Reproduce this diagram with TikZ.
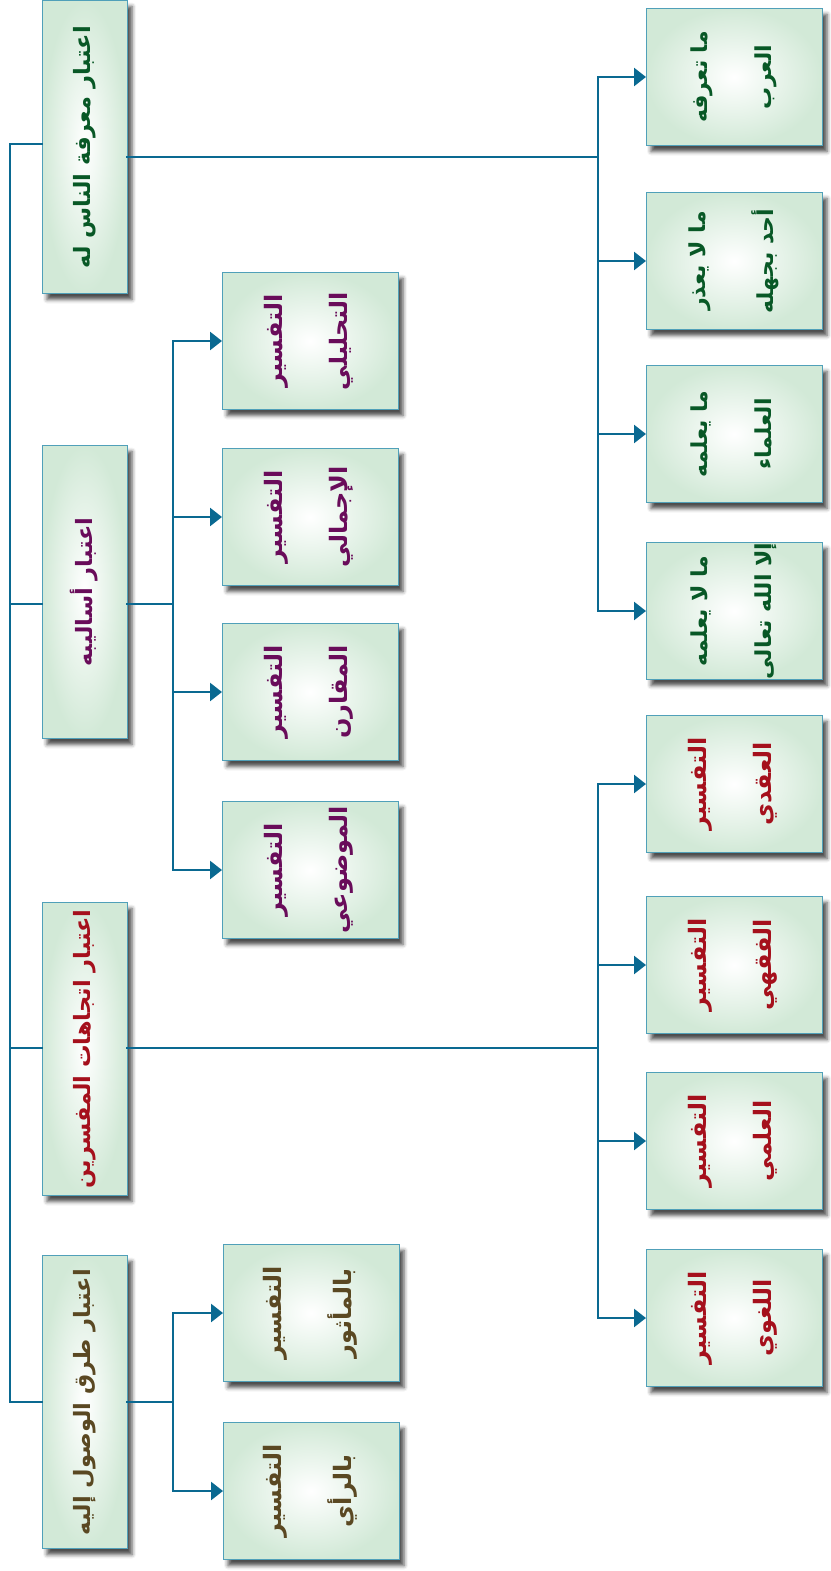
\documentclass[tikz,border=0pt]{standalone}
\usepackage{fontspec}
\newfontfamily\arabicfont[Script=Arabic]{DejaVu Sans}
\TeXXeTstate=1
\usetikzlibrary{arrows.meta,shadows.blur}
\definecolor{linec}{RGB}{10,105,145}
\definecolor{boxedge}{RGB}{80,160,185}
\definecolor{boxfill}{RGB}{210,233,215}
\definecolor{tgreen}{RGB}{8,88,38}
\definecolor{tpurple}{RGB}{105,12,90}
\definecolor{tred}{RGB}{165,16,28}
\definecolor{tbrown}{RGB}{90,72,34}
\newcommand{\onel}[1]{\rotatebox{90}{#1}}
\newcommand{\twol}[2]{\rotatebox{90}{\begin{tabular}{@{}c@{}}#1\\[38pt]#2\end{tabular}}}
\begin{document}
\begin{tikzpicture}[x=1pt,y=-1pt,
  box/.style={draw=boxedge, line width=0.8pt, inner sep=0pt, outer sep=0pt,
     shading=radial, inner color=white, outer color=boxfill,
     blur shadow={shadow xshift=5pt, shadow yshift=-6pt, shadow blur radius=4pt, shadow opacity=70}},
  mainbox/.style={box, minimum width=85pt, minimum height=293pt,
     font=\arabicfont\bfseries\fontsize{22.5}{26}\selectfont},
  leafbox/.style={box, minimum width=176pt, minimum height=137pt,
     font=\arabicfont\bfseries\fontsize{24}{27}\selectfont},
  gleaf/.style={leafbox, text=tgreen, font=\arabicfont\bfseries\fontsize{22}{26}\selectfont},
  conn/.style={draw=linec, line width=2.6pt, line cap=rect, line join=miter},
  arr/.style={conn, -{Triangle[length=12pt,width=18pt]}}
]
\useasboundingbox (0,0) rectangle (830,1571);

% main boxes
\node[mainbox, text=tgreen]  (A) at (84.5,147) {\onel{\beginR اعتبار معرفة الناس له\endR}};
\node[mainbox, text=tpurple] (B) at (84.5,592) {\onel{\beginR اعتبار أساليبه\endR}};
\node[mainbox, text=tred]    (C) at (84.5,1049) {\onel{\beginR اعتبار اتجاهات المفسرين\endR}};
\node[mainbox, text=tbrown]  (D) at (84.5,1402) {\onel{\beginR اعتبار طرق الوصول إليه\endR}};

% right column (A)
\node[gleaf] (r1) at (734,77)  {\twol{\beginR ما تعرفه\endR}{\beginR العرب\endR}};
\node[gleaf] (r2) at (734,261) {\twol{\beginR ما لا يعذر\endR}{\beginR أحد بجهله\endR}};
\node[gleaf] (r3) at (734,434) {\twol{\beginR ما يعلمه\endR}{\beginR العلماء\endR}};
\node[gleaf] (r4) at (734,611) {\twol{\beginR ما لا يعلمه\endR}{\beginR إلا الله تعالى\endR}};

% right column (C)
\node[leafbox, text=tred] (c1) at (734,784)  {\twol{\beginR التفسير\endR}{\beginR العقدي\endR}};
\node[leafbox, text=tred] (c2) at (734,965)  {\twol{\beginR التفسير\endR}{\beginR الفقهي\endR}};
\node[leafbox, text=tred] (c3) at (734,1141) {\twol{\beginR التفسير\endR}{\beginR العلمي\endR}};
\node[leafbox, text=tred] (c4) at (734,1318) {\twol{\beginR التفسير\endR}{\beginR اللغوي\endR}};

% middle column (B)
\node[leafbox, text=tpurple] (m1) at (310,341) {\twol{\beginR التفسير\endR}{\beginR التحليلي\endR}};
\node[leafbox, text=tpurple] (m2) at (310,517) {\twol{\beginR التفسير\endR}{\beginR الإجمالي\endR}};
\node[leafbox, text=tpurple] (m3) at (310,692) {\twol{\beginR التفسير\endR}{\beginR المقارن\endR}};
\node[leafbox, text=tpurple] (m4) at (310,870) {\twol{\beginR التفسير\endR}{\beginR الموضوعي\endR}};

% middle column (D)
\node[leafbox, text=tbrown] (d1) at (311,1313) {\twol{\beginR التفسير\endR}{\beginR بالمأثور\endR}};
\node[leafbox, text=tbrown] (d2) at (311,1491) {\twol{\beginR التفسير\endR}{\beginR بالرأي\endR}};

% trunk
\coordinate (tA) at (10,144);
\coordinate (tB) at (10,604);
\coordinate (tC) at (10,1048);
\coordinate (tD) at (10,1402);
\draw[conn] (tA -| A.west) -- (tA) -- (tD) -- (tD -| D.west);
\draw[conn] (tB) -- (tB -| B.west);
\draw[conn] (tC) -- (tC -| C.west);

% A branch
\coordinate (vA) at (598,157);
\draw[conn] (vA -| A.east) -- (vA);
\draw[conn] (vA |- r1.west) -- (vA |- r4.west);
\foreach \n in {r1,r2,r3,r4} \draw[arr] (vA |- \n.west) -- (\n.west);

% C branch
\coordinate (vC) at (598,1048);
\draw[conn] (vC -| C.east) -- (vC);
\draw[conn] (vC |- c1.west) -- (vC |- c4.west);
\foreach \n in {c1,c2,c3,c4} \draw[arr] (vC |- \n.west) -- (\n.west);

% B branch
\coordinate (vB) at (173,604);
\draw[conn] (vB -| B.east) -- (vB);
\draw[conn] (vB |- m1.west) -- (vB |- m4.west);
\foreach \n in {m1,m2,m3,m4} \draw[arr] (vB |- \n.west) -- (\n.west);

% D branch
\coordinate (vD) at (173,1402);
\draw[conn] (vD -| D.east) -- (vD);
\draw[conn] (vD |- d1.west) -- (vD |- d2.west);
\foreach \n in {d1,d2} \draw[arr] (vD |- \n.west) -- (\n.west);
\end{tikzpicture}
\end{document}
